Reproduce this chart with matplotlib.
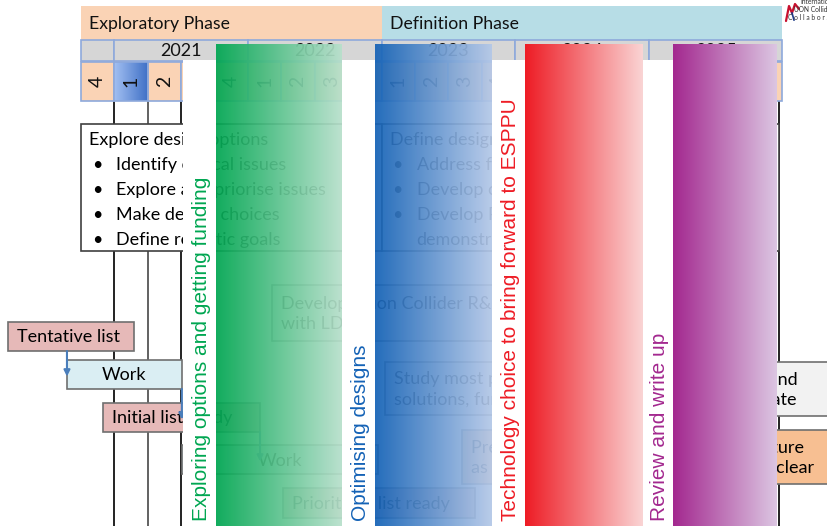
import numpy as np
import matplotlib.pyplot as plt
from matplotlib.patches import Rectangle
from matplotlib.colors import to_rgb

plt.rcParams['font.family'] = ['Lato', 'DejaVu Sans']

W, H = 827, 526
X0, QW = 81, 33.4          # timeline origin and width of one quarter (px)

# ---- timeline -------------------------------------------------------------
phases = ["Exploratory Phase", "Definition Phase"]
phase_span = [(0, 9), (9, 20.9)]
phase_colors = ["#FAD3B5", "#B7DDE6"]

years = ["", "2021", "2022", "2023", "2024", "2025"]
year_span = [(0, 1), (1, 5), (5, 9), (9, 13), (13, 17), (17, 21)]
quarters = ["4"] + ["1", "2", "3", "4"] * 5
current_quarter = 1
grid_quarters = [1, 2, 3, 20.9]

# ---- goals per phase ------------------------------------------------------
explore_goals = ["Explore design options", "Identify critical issues",
                 "Explore and priorise issues", "Make design choices",
                 "Define realistic goals"]
define_goals = ["Define designs", "Address feasibility issues",
                "Develop cost and power estimates", "Develop R&D programme and",
                "demonstrator"]

# ---- tasks: label, start quarter, end quarter, row, kind --------------------
task_labels = ["Tentative list", "Work", "Initial list ready", "Work",
               "Develop muon Collider R&D\nwith LDG",
               "Study most promising\nsolutions, further R&D",
               "Prioritised list ready", "Prepare R&D plan\nas required",
               "Review and\nconsolidate", "Define future\noptions if clear"]
task_start = [-2.18, -0.42, 0.66, 3.02, 5.72, 9.1, 6.05, 11.4, 18.44, 18.16]
task_end = [1.6, 3.02, 5.36, 8.9, 14.5, 15.6, 11.8, 16.0, 23.0, 23.0]
task_row = [(322, 351), (360, 389), (403, 432), (445, 474), (285, 341),
            (362, 415), (488, 518), (430, 484), (362, 416), (430, 484)]
task_kind = ["milestone", "work", "milestone", "work", "study", "study",
             "milestone", "plan", "study", "plan"]
kind_color = {"milestone": "#E6B9B8", "work": "#DAEEF3",
              "study": "#F2F2F2", "plan": "#F7BF92"}

# ---- overlay bands: label, text strip start, gradient start, gradient end --
band_labels = ["Exploring options and getting funding", "Optimising designs",
               "Technology choice to bring forward to ESPPU",
               "Review and write up"]
band_strip = [3.06, 7.81, 12.3, 16.82]
band_from = [4.05, 8.80, 13.3, 17.73]
band_to = [7.81, 12.3, 16.82, 20.82]
band_dark = ["#00A651", "#1462B6", "#EE1C25", "#A3288F"]
band_light = ["#B8E0CC", "#B4C8E8", "#FAD4D4", "#DCC6E2"]
band_alpha = [0.93, 0.93, 1.0, 1.0]


def qx(q):
    return X0 + q * QW


def rect(ax, x0, x1, y0, y1, fc, ec="none", lw=1.0, z=2):
    ax.add_patch(Rectangle((x0, y0), x1 - x0, y1 - y0, fc=fc, ec=ec,
                           lw=lw, zorder=z))


def hgradient(ax, x0, x1, y0, y1, c0, c1, alpha=1.0, z=10):
    t = np.linspace(0, 1, 256)[:, None]
    rgb = (1 - t) * np.array(to_rgb(c0)) + t * np.array(to_rgb(c1))
    img = np.concatenate([rgb, np.full((256, 1), alpha)], axis=1)[None, :, :]
    ax.imshow(img, extent=(x0, x1, y1, y0), aspect="auto",
              interpolation="bilinear", zorder=z)


fig = plt.figure(figsize=(8.27, 5.26), dpi=100)
ax = fig.add_axes([0, 0, 1, 1])

# phase banner
for name, (a, b), c in zip(phases, phase_span, phase_colors):
    rect(ax, qx(a), qx(b) + 3, 6, 40, c, z=2)
    ax.text(qx(a) + 8, 24, name, fontsize=12.7, va="center", ha="left",
            color="#111111", zorder=3)

# year row
for label, (a, b) in zip(years, year_span):
    rect(ax, qx(a), qx(b), 40, 61, "#D6D6D6", ec="#8EA9DB", lw=1.2, z=2)
    ax.text((qx(a) + qx(b)) / 2, 51, label, fontsize=13, ha="center",
            va="center", color="#111111", zorder=3)

# quarter row
for i, label in enumerate(quarters):
    x0, x1 = qx(i), qx(i + 1)
    if i == current_quarter:
        hgradient(ax, x0, x1, 62, 101, "#A3C0F2", "#3F70C6", z=2)
        rect(ax, x0, x1, 62, 101, "none", ec="#8EA9DB", lw=1.2, z=2.5)
    else:
        rect(ax, x0, x1, 62, 101, "#FAD3B5", ec="#8EA9DB", lw=1.2, z=2)
    ax.text((x0 + x1) / 2, 81.5, label, fontsize=14, rotation=90,
            ha="center", va="center", color="#111111", zorder=3)

# grid lines below the quarter row
for q in grid_quarters:
    col = "#111111" if q != 2 else "#555555"
    ax.plot([qx(q), qx(q)], [101, H], color=col, lw=1.3, zorder=1)

# goal boxes
for goals, (a, b) in ((explore_goals, phase_span[0]),
                      (define_goals, phase_span[1])):
    rect(ax, qx(a), qx(b), 124, 251, "white", ec="#404040", lw=1.2, z=4)
    for j, line in enumerate(goals):
        y = 140 + j * 25
        if j == 0:
            ax.text(qx(a) + 8, y, line, fontsize=13, va="center", zorder=5)
            continue
        if not (goals is define_goals and j == len(goals) - 1):
            ax.text(qx(a) + 11, y, "\u2022", fontsize=13, va="center",
                    zorder=5)
        ax.text(qx(a) + 35, y, line, fontsize=13, va="center", zorder=5)

# task boxes
for label, a, b, (y0, y1), kind in zip(task_labels, task_start, task_end,
                                       task_row, task_kind):
    rect(ax, qx(a), qx(b), y0, y1, kind_color[kind], ec="#6F6F6F", lw=1.2,
         z=4)
    single = "\n" not in label
    if label == "Work":
        ax.text((qx(a) + qx(b)) / 2, (y0 + y1) / 2 + 1, label, fontsize=13,
                ha="center", va="center", zorder=5)
    else:
        ax.text(qx(a) + 9, (y0 + y1) / 2 + 1, label, fontsize=13,
                ha="left", va="center", linespacing=1.35 if not single else 1,
                zorder=5)

# dependency arrows between the first tasks
arrow_kw = dict(arrowstyle="-|>", color="#4A7EBB", lw=1.5,
                mutation_scale=9, shrinkA=0, shrinkB=0)
links = [(0, 1), (1, 2), (2, 3)]
for s, e in links:
    xs = qx(task_start[e]) if s == 0 else qx(task_end[s])
    ax.annotate("", xy=(xs, (task_row[e][0] + task_row[e][1]) / 2 + 2),
                xytext=(xs, task_row[s][1]), arrowprops=arrow_kw, zorder=6)

# phase bands drawn on top of the schedule
for label, s, a, b, c0, c1, al in zip(band_labels, band_strip, band_from,
                                      band_to, band_dark, band_light,
                                      band_alpha):
    rect(ax, qx(s), qx(a), 60, H + 2, "white", z=10)
    hgradient(ax, qx(a), qx(b), 44, H + 2, c0, c1, alpha=al, z=10)
    ax.text((qx(s) + qx(a)) / 2 + 2, 521, label, rotation=90, ha="center",
            va="bottom", fontsize=15, color=c0, family="Liberation Sans",
            zorder=11)

# collaboration logo
ax.plot([786, 789, 792, 795, 799], [21, 6, 13, 4, 9], color="#C8102E",
        lw=1.6, zorder=3, solid_capstyle="round")
ax.plot([792, 794], [13, 20], color="#1F3C88", lw=1.2, zorder=3)
ax.text(800, 2, "International", fontsize=4.8, color="#333333",
        va="center", zorder=3)
ax.text(794, 10, "UON Collider", fontsize=4.8, color="#333333",
        va="center", zorder=3)
ax.text(788, 18, "C o l l a b o r a t i o n", fontsize=4.8,
        color="#333333", va="center", zorder=3)

ax.set_xlim(0, W)
ax.set_ylim(H, 0)
ax.axis("off")
fig.savefig("out.png", dpi=100, facecolor="white")
